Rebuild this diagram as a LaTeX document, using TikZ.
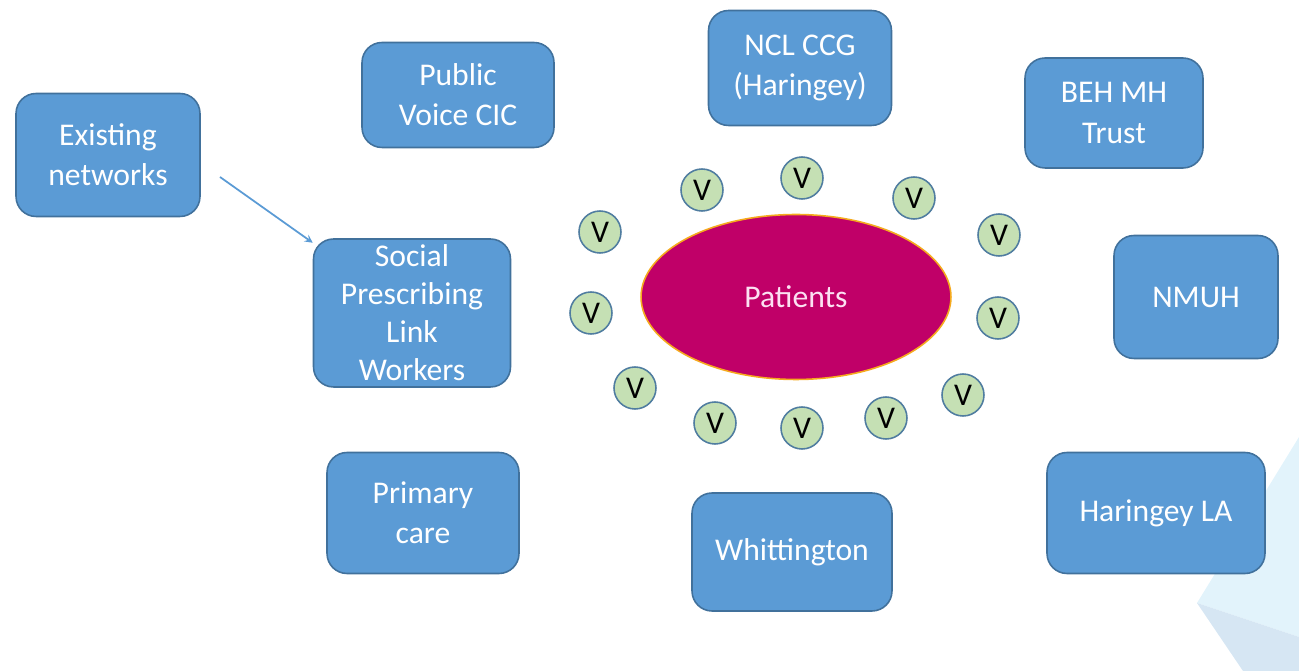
\documentclass[tikz,border=0pt]{standalone}
\usepackage{fontspec}
\setmainfont{Carlito}
\usetikzlibrary{shapes.geometric}
\definecolor{boxblue}{RGB}{91,155,213}
\definecolor{boxedge}{RGB}{65,113,156}
\definecolor{volgreen}{RGB}{197,224,180}
\definecolor{voledge}{RGB}{80,125,160}
\definecolor{patred}{RGB}{192,0,104}
\definecolor{patedge}{RGB}{245,170,30}
\definecolor{pattext}{RGB}{252,225,242}
\definecolor{shadelight}{RGB}{226,243,251}
\definecolor{shadedark}{RGB}{214,230,243}
\begin{document}
\begin{tikzpicture}[>=stealth,x=0.02cm,y=-0.02cm,
	box/.style={draw=boxedge,line width=0.9pt,fill=boxblue,rounded corners=0.4cm,text=white,align=center,inner sep=0pt,font=\fontsize{18}{22.8}\selectfont},
	vol/.style={circle,draw=voledge,line width=0.9pt,fill=volgreen,minimum size=0.84cm,inner sep=0pt,font=\fontsize{18}{20}\selectfont}]
		\useasboundingbox (0,0) rectangle (1299,671);
		% shading in the lower right corner
		\fill[shadelight] (1197,603) -- (1299,437) -- (1299,637) -- cycle;
		\fill[shadedark] (1197,603) -- (1299,637) -- (1299,671) -- (1243,671) -- cycle;
		% partners
		\node[box,minimum width=3.68cm,minimum height=2.46cm] (exist) at (108,155) {Existing\\networks};
		\node[box,minimum width=3.84cm,minimum height=2.1cm] (voice) at (458,95) {Public\\Voice CIC};
		\node[box,minimum width=3.66cm,minimum height=2.3cm] (ccg) at (800,68) {NCL CCG\\(Haringey)};
		\node[box,minimum width=3.56cm,minimum height=2.2cm] (beh) at (1114,113) {BEH MH\\Trust};
		\node[box,minimum width=3.94cm,minimum height=2.96cm,font=\fontsize{18}{21.6}\selectfont] (social) at (412,313) {Social\\Prescribing\\Link\\Workers};
		\node[box,minimum width=3.28cm,minimum height=2.46cm] (nmuh) at (1196,297) {NMUH};
		\node[box,minimum width=3.84cm,minimum height=2.42cm] (primary) at (423,513) {Primary\\care};
		\node[box,minimum width=4cm,minimum height=2.36cm] (whit) at (792,552) {Whittington};
		\node[box,minimum width=4.36cm,minimum height=2.42cm] (la) at (1156,513) {Haringey LA};
		% patients and volunteers
		\node[ellipse,draw=patedge,line width=0.9pt,fill=patred,text=pattext,minimum width=6.2cm,minimum height=3.3cm,font=\fontsize{18}{20}\selectfont] (pat) at (796,297) {Patients};
		\foreach \px/\py [count=\i] in {600/232,702/190,802/178,914/198,999/235,591/313,998/318,635/388,963/395,715/423,802/428,886/418}
			\node[vol] (v\i) at (\px,\py) {V};
		\coordinate (from) at (220,177);
		\draw[->,boxblue,line width=1pt] (from) -- (social);
\end{tikzpicture}
\end{document}
